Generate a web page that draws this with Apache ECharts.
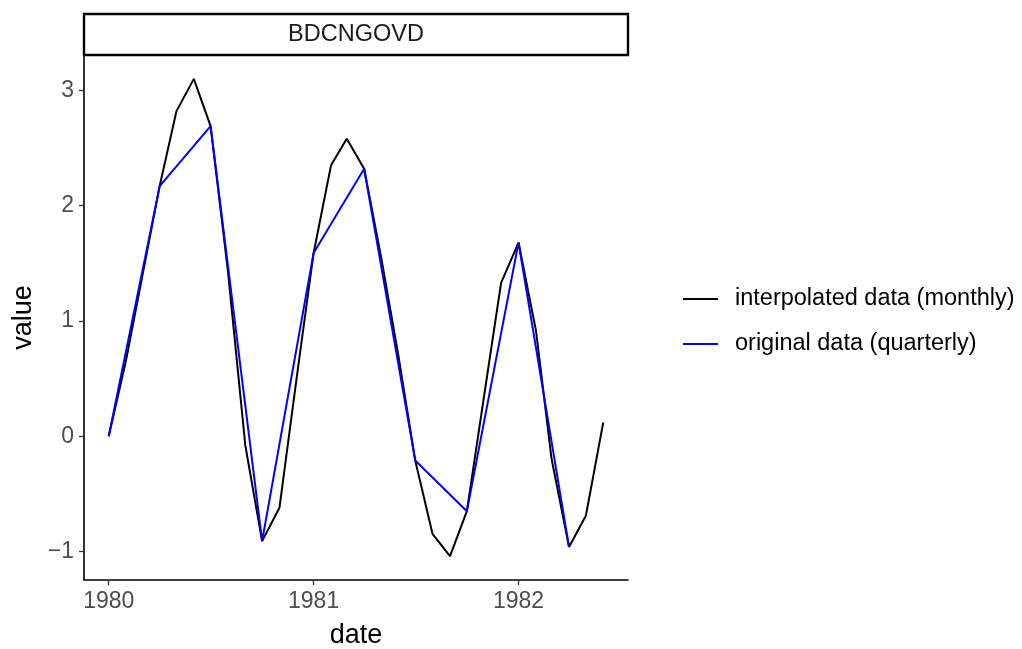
<!DOCTYPE html>
<html>
<head>
<meta charset="utf-8">
<script src="https://cdn.jsdelivr.net/npm/echarts@6/dist/echarts.min.js"></script>
<style>html,body{margin:0;padding:0;background:#fff}#c{width:1022px;height:649px}</style>
</head>
<body>
<div id="c"></div>
<script>
var panelTitle = 'BDCNGOVD';
var monthlyDates = ['1980-01','1980-02','1980-03','1980-04','1980-05','1980-06','1980-07','1980-08','1980-09','1980-10','1980-11','1980-12',
  '1981-01','1981-02','1981-03','1981-04','1981-05','1981-06','1981-07','1981-08','1981-09','1981-10','1981-11','1981-12',
  '1982-01','1982-02','1982-03','1982-04','1982-05','1982-06'];
var monthlyValues = [0.00,0.66,1.39,2.17,2.82,3.10,2.69,1.43,-0.08,-0.91,-0.62,0.48,
  1.59,2.35,2.58,2.32,1.56,0.70,-0.21,-0.85,-1.04,-0.65,0.36,1.33,
  1.68,0.92,-0.20,-0.96,-0.69,0.12];
var quarterlyDates = ['1980-01','1980-04','1980-07','1980-10','1981-01','1981-04','1981-07','1981-10','1982-01','1982-04'];
var quarterlyValues = [0.00,2.17,2.69,-0.91,1.59,2.32,-0.21,-0.65,1.68,-0.96];
var xTicks = [1980, 1981, 1982];
var yTicks = [-1, 0, 1, 2, 3];
var seriesNames = ['interpolated data (monthly)', 'original data (quarterly)'];

function decYear(s) {
  var p = s.split('-'), y = +p[0], m = +p[1];
  var t = Date.UTC(y, m - 1, 1), a = Date.UTC(y, 0, 1), b = Date.UTC(y + 1, 0, 1);
  return y + (t - a) / (b - a);
}
var mData = monthlyDates.map(function (d, i) { return [decYear(d), monthlyValues[i]]; });
var qData = quarterlyDates.map(function (d, i) { return [decYear(d), quarterlyValues[i]]; });
var allX = mData.map(function (p) { return p[0]; });
var xLo = Math.min.apply(null, allX), xHi = Math.max.apply(null, allX);
var allY = monthlyValues.concat(quarterlyValues);
var yLo = Math.min.apply(null, allY), yHi = Math.max.apply(null, allY);
var xPad = (xHi - xLo) * 0.05, yPad = (yHi - yLo) * 0.05;

var FONT = 'Liberation Sans, Arial, Helvetica, sans-serif';
var chart = echarts.init(document.getElementById('c'), null, {renderer: 'canvas'});
chart.setOption({
  animation: false,
  backgroundColor: '#ffffff',
  grid: {left: 84, right: 394, top: 55, bottom: 69, containLabel: false, outerBoundsMode: 'none'},
  xAxis: {
    type: 'value', min: xLo - xPad, max: xHi + xPad,
    name: 'date', nameLocation: 'middle', nameGap: 42,
    nameTextStyle: {fontFamily: FONT, fontSize: 27, color: '#000'},
    axisLine: {show: true, onZero: false, lineStyle: {color: '#000', width: 1.6}},
    axisTick: {show: true, length: 5, lineStyle: {color: '#333', width: 1.3}, customValues: xTicks},
    axisLabel: {fontFamily: FONT, fontSize: 23, color: '#4d4d4d', margin: 10, customValues: xTicks,
      formatter: function (v) { return String(Math.round(v)); }},
    splitLine: {show: false}
  },
  yAxis: {
    type: 'value', min: yLo - yPad, max: yHi + yPad,
    name: 'value', nameLocation: 'middle', nameGap: 46, nameRotate: 90,
    nameTextStyle: {fontFamily: FONT, fontSize: 27, color: '#000'},
    axisLine: {show: true, onZero: false, lineStyle: {color: '#000', width: 1.6}},
    axisTick: {show: true, length: 5, lineStyle: {color: '#333', width: 1.3}, customValues: yTicks},
    axisLabel: {fontFamily: FONT, fontSize: 23, color: '#4d4d4d', margin: 10, customValues: yTicks,
      formatter: function (v) { return v < 0 ? '\u2212' + Math.abs(v) : String(v); }},
    splitLine: {show: false}
  },
  legend: {
    orient: 'vertical', left: 678, top: 282, itemGap: 21,
    itemWidth: 35, itemHeight: 2, icon: 'rect',
    textStyle: {fontFamily: FONT, fontSize: 23.5, color: '#000', padding: [0, 0, 0, 12]},
    data: seriesNames
  },
  graphic: [
    {type: 'rect', x: 84, y: 14, shape: {x: 0, y: 0, width: 544, height: 41},
      style: {fill: '#fff', stroke: '#000', lineWidth: 2.4}, z: 10},
    {type: 'text', x: 356, y: 34.5, z: 11,
      style: {text: panelTitle, fontFamily: FONT, fontSize: 23.5, fill: '#1a1a1a', align: 'center', verticalAlign: 'middle'}}
  ],
  series: [
    {name: seriesNames[0], type: 'line', data: mData, showSymbol: false, symbol: 'none',
      lineStyle: {color: '#000', width: 2}, itemStyle: {color: '#000'}, z: 2},
    {name: seriesNames[1], type: 'line', data: qData, showSymbol: false, symbol: 'none',
      lineStyle: {color: '#0000ff', width: 2}, itemStyle: {color: '#0000ff'}, z: 3}
  ]
});
</script>
</body>
</html>
